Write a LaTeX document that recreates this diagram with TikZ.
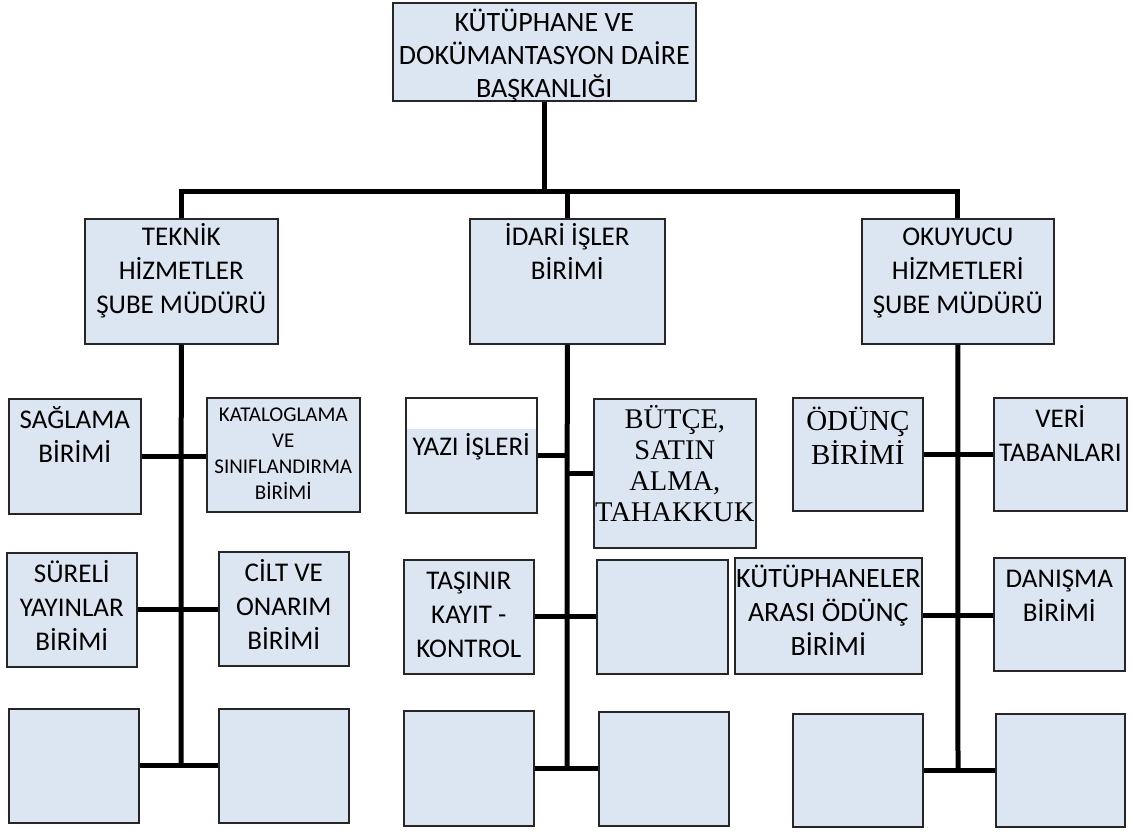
\documentclass[tikz,border=0pt]{standalone}
\usepackage{fontspec}
\setmainfont{Carlito}
\newfontfamily\timesfont{Liberation Serif}
\usetikzlibrary{calc, positioning}

\definecolor{boxblue}{RGB}{220,230,242}
\newcommand{\boxtext}[4][6]{\parbox[t][#3pt][t]{#2pt}{\vspace*{#1pt}\centering\strut#4}}
\tikzset{
  unit/.style={draw=black!85, line width=1.6pt, fill=boxblue, inner sep=0pt, anchor=north west},
  trunk/.style={line width=5pt},
  arm/.style={line width=5pt},
  small/.style={font=\fontsize{21}{26}\selectfont},
  serif/.style={font=\timesfont\fontsize{28.5}{31}\selectfont},
}

\begin{document}
\begin{tikzpicture}[x=1pt, y=-1pt, font=\fontsize{27}{34}\selectfont]
	\useasboundingbox (0,0) rectangle (1133,831);
	% head and the three branches
	\node[unit, font=\fontsize{28}{33}\selectfont] (top) at (392,2) {\boxtext{303}{98}{KÜTÜPHANE VE\\DOKÜMANTASYON DAİRE\\BAŞKANLIĞI}};
	\node[unit] (teknik) at (84,218) {\boxtext[3]{193}{125}{TEKNİK\\HİZMETLER\\ŞUBE MÜDÜRÜ}};
	\node[unit] (idari) at (469,218) {\boxtext[3]{195}{125}{İDARİ İŞLER\\BİRİMİ}};
	\node[unit] (okuyucu) at (861,218) {\boxtext[3]{192}{125}{OKUYUCU\\HİZMETLERİ\\ŞUBE MÜDÜRÜ}};
	\coordinate (bus) at (543,191);
	\coordinate (tEnd) at (181,767);
	\coordinate (mEnd) at (567,770);
	\coordinate (rEnd) at (958,772);

	% teknik hizmetler
	\node[unit] (sagla) at (8,398) {\boxtext{132}{115}{SAĞLAMA\\BİRİMİ}};
	\node[unit, small] (katalog) at (206,397) {\boxtext[5]{153}{114}{KATALOGLAMA\\VE\\SINIFLANDIRMA\\BİRİMİ}};
	\node[unit] (sureli) at (6,552) {\boxtext{130}{114}{SÜRELİ\\YAYINLAR\\BİRİMİ}};
	\node[unit] (cilt) at (218,551) {\boxtext{130}{114}{CİLT VE\\ONARIM\\BİRİMİ}};
	\node[unit] (tBotL) at (8,708) {\boxtext{130}{114}{}};
	\node[unit] (tBotR) at (218,708) {\boxtext{130}{114}{}};

	% idari isler
	\node[unit, path picture={\fill[white] (path picture bounding box.north west) rectangle ([yshift=-31pt]path picture bounding box.north east);}] (yazi) at (405,397) {\boxtext[34]{131}{115}{YAZI İŞLERİ}};
	\node[unit, serif] (butce) at (593,398) {\boxtext[7]{162}{149}{BÜTÇE,\\SATIN\\ALMA,\\TAHAKKUK}};
	\node[unit] (tasinir) at (403,559) {\boxtext{130}{114}{TAŞINIR\\KAYIT -\\KONTROL}};
	\node[unit] (mMidR) at (596,559) {\boxtext{131}{114}{}};
	\node[unit] (mBotL) at (403,710) {\boxtext{130}{115}{}};
	\node[unit] (mBotR) at (598,711) {\boxtext{130}{114}{}};

	% okuyucu hizmetleri
	\node[unit, serif, font=\timesfont\fontsize{29}{29.5}\selectfont] (odunc) at (792,397) {\boxtext[9]{130}{113}{ÖDÜNÇ\\BİRİMİ}};
	\node[unit] (veri) at (993,397) {\boxtext{133}{113}{VERİ\\TABANLARI}};
	\node[unit, font=\fontsize{28}{34}\selectfont] (kutup) at (734,557) {\boxtext{187}{116}{KÜTÜPHANELER\\ARASI ÖDÜNÇ\\BİRİMİ}};
	\node[unit] (danisma) at (993,557) {\boxtext{131}{113}{DANIŞMA\\BİRİMİ}};
	\node[unit] (rBotL) at (792,713) {\boxtext{130}{113}{}};
	\node[unit] (rBotR) at (995,713) {\boxtext{129}{113}{}};

	% connectors
	\draw[trunk] (top.south) -- (top.south |- bus);
	\draw[trunk] (teknik.north) |- (okuyucu.north |- bus) -- (okuyucu.north);
	\draw[trunk] (idari.north) -- (idari.north |- bus);
	\draw[trunk] (teknik.south) -- (tEnd);
	\draw[trunk] (idari.south) -- (mEnd);
	\draw[trunk] (okuyucu.south) -- (rEnd);
	\draw[arm] (sagla.east) -- (sagla.east -| katalog.west);
	\draw[arm] (sureli.east) -- (sureli.east -| cilt.west);
	\draw[arm] (tBotL.east) -- (tBotL.east -| tBotR.west);
	\draw[arm] (yazi.east) -- (yazi.east -| mEnd);
	\draw[arm] (butce.west) -- (butce.west -| mEnd);
	\draw[arm] (tasinir.east) -- (tasinir.east -| mMidR.west);
	\draw[arm] (mBotL.east) -- (mBotL.east -| mBotR.west);
	\draw[arm] (odunc.east) -- (odunc.east -| veri.west);
	\draw[arm] (kutup.east) -- (kutup.east -| danisma.west);
	\draw[arm] (rBotL.east) -- (rBotL.east -| rBotR.west);
\end{tikzpicture}
\end{document}
